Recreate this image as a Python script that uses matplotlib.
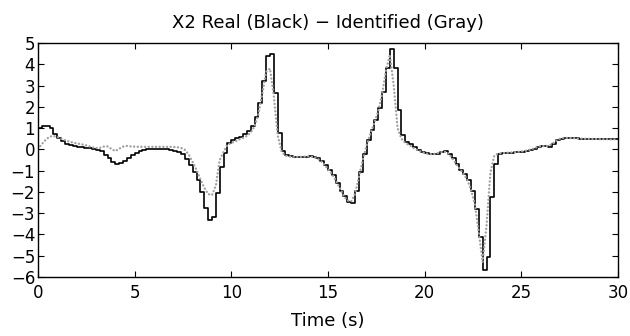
import numpy as np
import matplotlib
matplotlib.use("Agg")
import matplotlib.pyplot as plt

plt.rcParams['font.family'] = ['DejaVu Sans']

# sample times (s), 0.2 s sampling
time = np.arange(0, 30.001, 0.2)

real_x2 = [
    1.0, 1.12, 1.12, 1.02, 0.74, 0.52, 0.37, 0.27, 0.2, 0.16,
    0.13, 0.11, 0.08, 0.05, 0.02, -0.02, -0.1, -0.25, -0.42, -0.6,
    -0.68, -0.66, -0.56, -0.42, -0.28, -0.16, -0.08, -0.03, 0.0, 0.03,
    0.04, 0.03, 0.02, 0.0, -0.03, -0.07, -0.12, -0.22, -0.45, -0.72,
    -1.05, -1.44, -1.99, -2.77, -3.32, -3.16, -2.07, -0.82, -0.19, 0.28,
    0.42, 0.52, 0.6, 0.7, 0.85, 1.1, 1.5, 2.2, 3.2, 4.38,
    4.5, 2.63, 0.75, -0.06, -0.28, -0.33, -0.35, -0.35, -0.35, -0.34,
    -0.33, -0.35, -0.42, -0.55, -0.72, -0.97, -1.22, -1.6, -1.95, -2.2,
    -2.47, -2.5, -1.94, -1.05, -0.22, 0.44, 0.91, 1.38, 1.93, 2.71,
    3.81, 4.7, 3.81, 1.85, 0.67, 0.36, 0.25, 0.12, -0.02, -0.12,
    -0.18, -0.24, -0.24, -0.2, -0.14, -0.09, -0.2, -0.42, -0.7, -0.95,
    -1.15, -1.45, -1.95, -2.8, -4.14, -5.65, -5.05, -2.23, -0.68, -0.22,
    -0.18, -0.16, -0.16, -0.14, -0.13, -0.11, -0.08, -0.03, 0.02, 0.1,
    0.16, 0.15, 0.13, 0.25, 0.42, 0.5, 0.53, 0.53, 0.53, 0.52,
    0.51, 0.5, 0.5, 0.49, 0.49, 0.48, 0.48, 0.48, 0.47, 0.47,
    0.47,
]

identified_x2 = [
    0.02, 0.25, 0.45, 0.6, 0.63, 0.58, 0.5, 0.43, 0.37, 0.32,
    0.28, 0.25, 0.21, 0.16, 0.1, 0.06, 0.07, 0.13, 0.14, 0.02,
    -0.08, 0.03, 0.13, 0.16, 0.14, 0.13, 0.12, 0.12, 0.12, 0.12,
    0.12, 0.12, 0.12, 0.12, 0.12, 0.11, 0.1, 0.07, -0.02, -0.25,
    -0.6, -0.97, -1.4, -1.8, -2.1, -2.15, -1.7, -0.5, -0.12, 0.22,
    0.3, 0.38, 0.46, 0.54, 0.63, 0.78, 1.08, 1.65, 2.6, 3.65,
    3.8, 2.5, 0.65, -0.1, -0.3, -0.33, -0.35, -0.35, -0.35, -0.34,
    -0.33, -0.35, -0.4, -0.52, -0.7, -0.92, -1.15, -1.45, -1.8, -2.15,
    -2.4, -2.45, -2.1, -1.3, -0.5, 0.2, 0.75, 1.25, 1.8, 2.6,
    3.7, 4.45, 3.0, 1.0, 0.5, 0.3, 0.2, 0.08, -0.02, -0.1,
    -0.17, -0.22, -0.23, -0.2, -0.14, -0.1, -0.16, -0.38, -0.65, -0.9,
    -1.12, -1.42, -1.9, -2.6, -3.9, -5.3, -3.6, -1.1, -0.3, -0.2,
    -0.18, -0.16, -0.15, -0.14, -0.12, -0.1, -0.07, -0.03, 0.03, 0.1,
    0.15, 0.16, 0.16, 0.25, 0.4, 0.5, 0.54, 0.54, 0.53, 0.52,
    0.51, 0.5, 0.5, 0.49, 0.49, 0.48, 0.48, 0.48, 0.47, 0.47,
    0.47,
]

xticks = [0, 5, 10, 15, 20, 25, 30]
yticks = [-6, -5, -4, -3, -2, -1, 0, 1, 2, 3, 4, 5]

fig = plt.figure(figsize=(6.3, 3.36), dpi=100)
ax = fig.add_axes([0.0603, 0.1756, 0.9206, 0.6964])

ax.plot(time, real_x2, color='black', linewidth=1.2, drawstyle='steps-post')
ax.plot(time, identified_x2, color='#a0a0a0', linewidth=1.7,
        linestyle=(0, (0.05, 1.5)), dash_capstyle='round')

ax.set_xlim(0, 30)
ax.set_ylim(-6, 5)
ax.set_xticks(xticks)
ax.set_yticks(yticks)
ax.tick_params(direction='in', top=True, right=True, length=4,
               width=0.8, labelsize=12)
ax.tick_params(axis='x', pad=5)
ax.tick_params(axis='y', pad=2)
for s in ax.spines.values():
    s.set_linewidth(1.0)
ax.set_title('X2 Real (Black) \u2212 Identified (Gray)', fontsize=13, pad=11)
ax.set_xlabel('Time (s)', fontsize=13, labelpad=7)

fig.savefig('out.png', dpi=100)
